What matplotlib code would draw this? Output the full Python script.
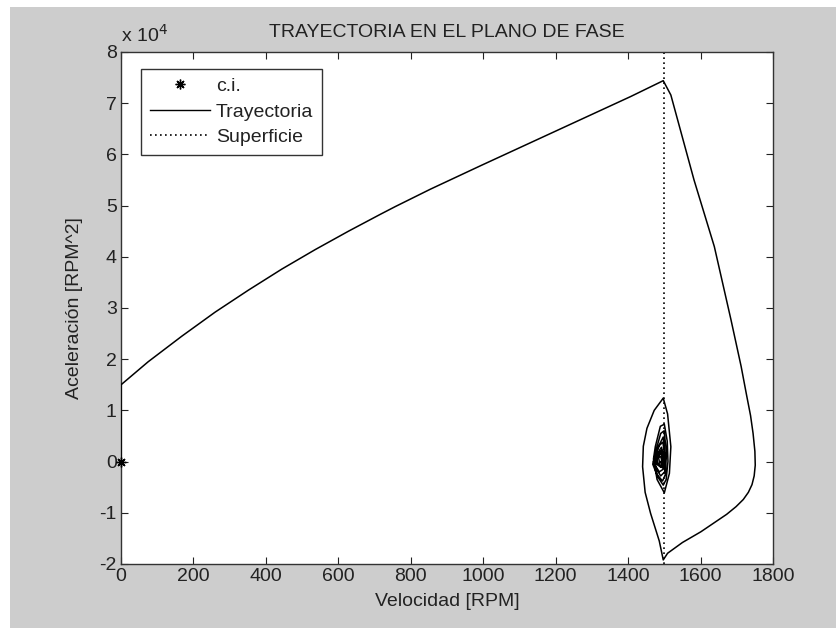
#!/usr/bin/env python3

import matplotlib
matplotlib.use("Agg")
import matplotlib.pyplot as plt
from matplotlib.lines import Line2D
from matplotlib.patches import Rectangle
from matplotlib.ticker import FuncFormatter

plt.rcParams["font.family"] = ["Liberation Sans", "DejaVu Sans"]

# initial condition
ci_vel = [0]
ci_acc = [0]

# trajectory in the phase plane (velocity in RPM, acceleration in RPM^2)
vel = [0, 0, 75, 168, 260, 352, 444, 536, 628, 716, 757, 854, 993, 1131, 1269, 1407, 1497,
       1518, 1582, 1638, 1684, 1712, 1727, 1738, 1745, 1750, 1751, 1748, 1742, 1732, 1718, 1698, 1672, 1601, 1550,
       1509, 1497,
       1486, 1462, 1447, 1440, 1442, 1452, 1472, 1497,
       1509, 1518, 1514, 1500,
       1480, 1470, 1475, 1489, 1500, 1508, 1510, 1505, 1497,
       1482, 1468, 1478, 1490, 1499, 1506, 1503, 1495,
       1480, 1470, 1484, 1497, 1503, 1501, 1490,
       1476, 1474, 1487, 1496, 1501, 1497, 1486,
       1473, 1480, 1492, 1499, 1496, 1488,
       1476, 1484, 1493, 1497, 1492, 1483,
       1478, 1486, 1494, 1496, 1490, 1481,
       1480, 1489, 1495, 1493, 1487, 1484, 1490, 1493, 1490]
acc = [0, 15000, 19500, 24500, 29200, 33500, 37600, 41400, 45000, 48300, 49800, 53200, 57800, 62300, 66800, 71300, 74400,
       71600, 55000, 42000, 27700, 18600, 13000, 9000, 5500, 2000, -700, -2800, -4500, -6000, -7400, -8800, -10300, -13700, -15800,
       -17900, -19200,
       -15500, -10100, -6000, -1000, 3000, 6500, 10000, 12400,
       9300, 2900, -2300, -6100,
       -3500, 500, 2900, 6900, 7300, 4000, 0, -3500, -4600,
       -3000, -500, 2500, 5500, 6000, 2000, -2500, -3800,
       -2500, 0, 3000, 4800, 1000, -2000, -2800,
       -1200, 1200, 3200, 3800, 1200, -1500, -2000,
       -500, 1500, 2800, 1000, -1200, -1000,
       -300, 1800, 2200, 500, -800, -600,
       200, 1600, 2000, 200, -1000, -200,
       500, 1500, 1200, -200, -300, 800, 1000, 200, 0]

# sliding surface
surf_vel = [1500, 1500]
surf_acc = [-20000, 80000]

x_ticks = [0, 200, 400, 600, 800, 1000, 1200, 1400, 1600, 1800]
y_ticks = [-20000, -10000, 0, 10000, 20000, 30000, 40000, 50000, 60000, 70000, 80000]

fig = plt.figure(figsize=(8.37, 6.28), dpi=100, facecolor="white")
# gray figure background (white strips on top and left as in the screenshot)
fig.patches.append(Rectangle((10 / 837, 0), 1 - 10 / 837, 1 - 7 / 628,
                             transform=fig.transFigure, facecolor="#cdcdcd",
                             edgecolor="none", zorder=-10))

ax = fig.add_axes([121 / 837, 1 - 564 / 628, (773 - 121) / 837, (564 - 52) / 628])
ax.set_facecolor("white")

ax.plot(surf_vel, surf_acc, color="black", linestyle=(0, (1, 2)), linewidth=1.2, zorder=2)
ax.plot(vel, acc, color="black", linewidth=1.1, zorder=3)
ax.plot(ci_vel, ci_acc, linestyle="none", marker=(8, 2, 0), markersize=7,
        markeredgewidth=1.0, color="black", zorder=4, clip_on=False)

ax.set_xlim(0, 1800)
ax.set_ylim(-20000, 80000)
ax.set_xticks(x_ticks)
ax.set_yticks(y_ticks)
ax.yaxis.set_major_formatter(FuncFormatter(lambda v, p: f"{v / 1e4:g}"))
ax.tick_params(direction="in", length=5, width=0.8, top=True, right=True,
               labelsize=14, colors="#222222", pad=3)
for spine in ax.spines.values():
    spine.set_color("#333333")
    spine.set_linewidth(1.0)

ax.set_title("TRAYECTORIA EN EL PLANO DE FASE", fontsize=14, pad=11, color="#222222")
ax.set_xlabel("Velocidad [RPM]", fontsize=14, color="#222222", labelpad=6)
ax.set_ylabel("Aceleración [RPM^2]", fontsize=14, color="#222222", labelpad=12)
ax.text(0.0, 1.012, "x 10$^4$", transform=ax.transAxes, fontsize=14,
        color="#222222", ha="left", va="bottom")

handles = [
    Line2D([0], [0], linestyle="none", marker=(8, 2, 0), markersize=7,
           markeredgewidth=1.0, color="black", label="c.i."),
    Line2D([0], [0], color="black", linewidth=1.0, label="Trayectoria"),
    Line2D([0], [0], color="black", linewidth=1.2, linestyle=(0, (1, 2)), label="Superficie"),
]
leg = ax.legend(handles=handles, loc="upper left", bbox_to_anchor=(0.031, 0.967),
                fontsize=14, handlelength=3.1, handletextpad=0.3, labelspacing=0.4,
                borderpad=0.45, borderaxespad=0.0, fancybox=False, framealpha=1.0)
leg.get_frame().set_edgecolor("#333333")
leg.get_frame().set_linewidth(1.0)
for t in leg.get_texts():
    t.set_color("#222222")

fig.savefig("out.png", dpi=100, facecolor=fig.get_facecolor())
